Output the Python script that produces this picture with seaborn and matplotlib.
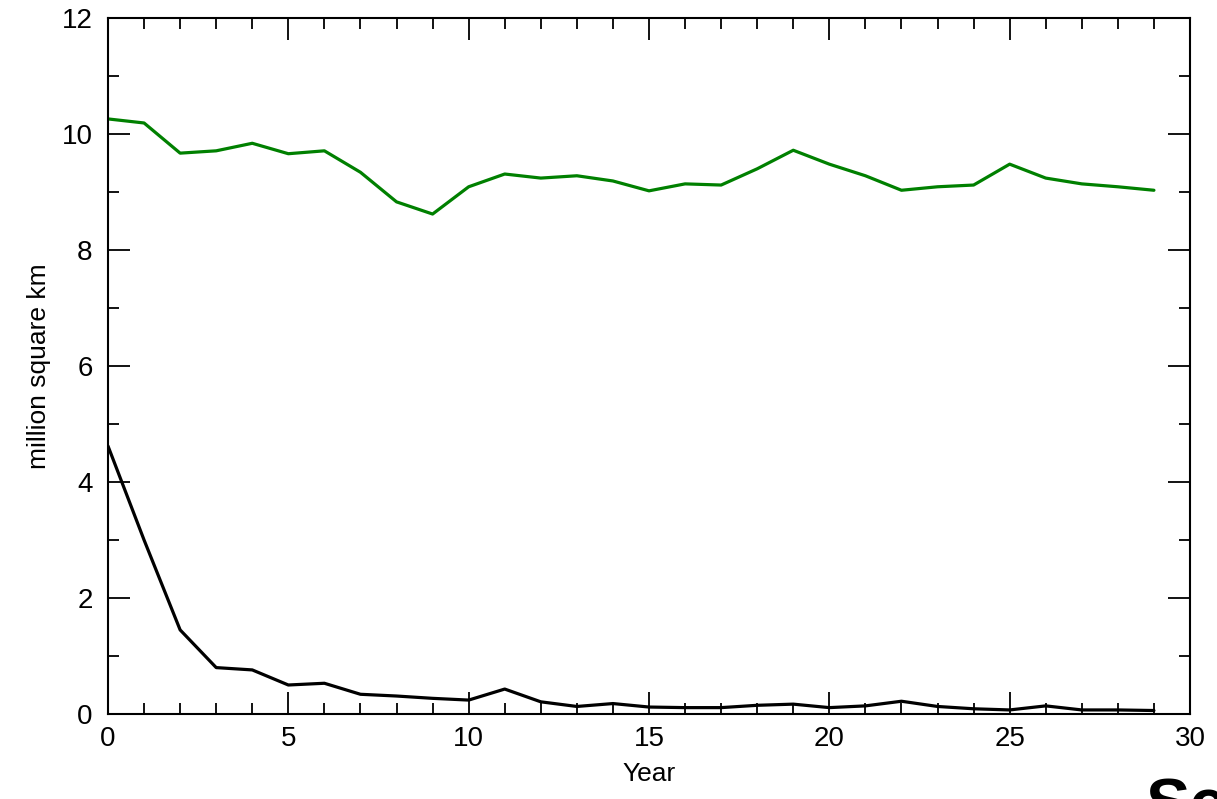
import numpy as np
import pandas as pd
import matplotlib
matplotlib.use("Agg")
import matplotlib.pyplot as plt
from matplotlib.ticker import MultipleLocator
import seaborn as sns

years = list(range(30))
green_series = [10.26, 10.19, 9.67, 9.71, 9.84, 9.66, 9.71, 9.34, 8.83, 8.62,
                9.09, 9.31, 9.24, 9.28, 9.19, 9.02, 9.14, 9.12, 9.40, 9.72,
                9.48, 9.28, 9.03, 9.09, 9.12, 9.48, 9.24, 9.14, 9.09, 9.03]
black_series = [4.62, 3.00, 1.45, 0.80, 0.76, 0.50, 0.53, 0.34, 0.31, 0.27,
                0.24, 0.43, 0.21, 0.13, 0.18, 0.12, 0.11, 0.11, 0.15, 0.17,
                0.11, 0.14, 0.22, 0.13, 0.09, 0.07, 0.14, 0.07, 0.07, 0.06]

df = pd.DataFrame({
    "Year": years * 2,
    "value": green_series + black_series,
    "series": ["green"] * len(years) + ["black"] * len(years),
})

sns.set_style("ticks", {"text.color": "black", "axes.labelcolor": "black",
                        "xtick.color": "black", "ytick.color": "black",
                        "axes.edgecolor": "black"})
plt.rcParams["font.family"] = ["Liberation Sans", "DejaVu Sans"]

fig = plt.figure(figsize=(12.17, 7.99), dpi=100)
ax = fig.add_axes([108/1217, 1 - 714/799, (1190 - 108)/1217, (714 - 18)/799])

sns.lineplot(data=df, x="Year", y="value", hue="series",
             palette={"green": "#008000", "black": "#000000"},
             linewidth=2.3, ax=ax, legend=False, estimator=None)

ax.set_xlim(0, 30)
ax.set_ylim(0, 12)
ax.xaxis.set_major_locator(MultipleLocator(5))
ax.xaxis.set_minor_locator(MultipleLocator(1))
ax.yaxis.set_major_locator(MultipleLocator(2))
ax.yaxis.set_minor_locator(MultipleLocator(1))
ax.tick_params(which="both", direction="in", top=True, right=True,
               color="black", labelcolor="black", width=1.3)
ax.tick_params(which="major", length=16, labelsize=20)
ax.tick_params(axis="x", which="major", pad=9)
ax.tick_params(axis="y", which="major", pad=11)
ax.tick_params(which="minor", length=8)
for s in ax.spines.values():
    s.set_linewidth(1.5)
    s.set_color("black")

ax.set_xlabel("Year", fontsize=19, labelpad=7, color="black")
ax.set_ylabel("million square km", fontsize=19, labelpad=8, color="black")

fig.text(1145/1217, 1 - 778/799, "Se", fontsize=48, fontweight="bold",
         ha="left", va="top", color="black")

fig.savefig("out.png", dpi=100)
